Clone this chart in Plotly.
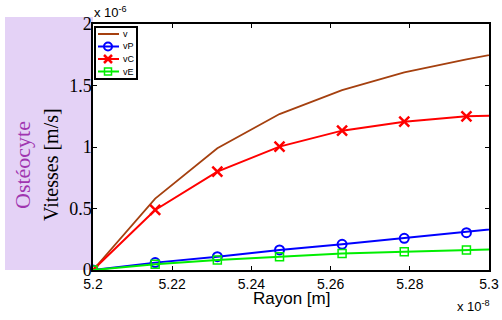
import plotly.graph_objects as go

# Rayon (x 1e-8 m)
rayon = [5.2, 5.2157, 5.2314, 5.2471, 5.2629, 5.2786, 5.2943, 5.31]
# Vitesses (x 1e-6 m/s)
v = [0.0, 0.58, 0.99, 1.268, 1.463, 1.607, 1.713, 1.807]
vP = [0.0, 0.06, 0.108, 0.163, 0.209, 0.258, 0.303, 0.362]
vC = [0.0, 0.488, 0.80, 1.003, 1.133, 1.206, 1.249, 1.262]
vE = [0.0, 0.046, 0.081, 0.108, 0.135, 0.149, 0.163, 0.176]

xticks = [5.2, 5.22, 5.24, 5.26, 5.28, 5.3]
xticklabels = ["5.2", "5.22", "5.24", "5.26", "5.28", "5.3"]
yticks = [0, 0.5, 1, 1.5, 2]
yticklabels = ["0", "0.5", "1", "1.5", "2"]

series_names = ["v", "vP", "vC", "vE"]
series_colors = ["#a5400f", "#0000ff", "#ff0000", "#00ee00"]

W, H = 502, 320
ML, MR, MT, MB = 93, 13, 24, 50
PW, PH = W - ML - MR, H - MT - MB


def px(x):
    return (x - ML) / PW


def py(y):
    return (H - MB - y) / PH


fig = go.Figure()
fig.add_trace(go.Scatter(x=rayon, y=v, name="v", mode="lines",
                         line=dict(color=series_colors[0], width=1.8)))
fig.add_trace(go.Scatter(x=rayon, y=vP, name="vP", mode="lines+markers",
                         line=dict(color=series_colors[1], width=2),
                         marker=dict(symbol="circle-open", size=9, color=series_colors[1],
                                     line=dict(width=2, color=series_colors[1]))))
fig.add_trace(go.Scatter(x=rayon, y=vC, name="vC", mode="lines+markers",
                         line=dict(color=series_colors[2], width=2),
                         marker=dict(symbol="x-thin-open", size=10, color=series_colors[2],
                                     line=dict(width=2.5, color=series_colors[2]))))
fig.add_trace(go.Scatter(x=rayon, y=vE, name="vE", mode="lines+markers",
                         line=dict(color=series_colors[3], width=2),
                         marker=dict(symbol="square-open", size=8, color=series_colors[3],
                                     line=dict(width=1.5, color=series_colors[3]))))

fig.update_layout(
    width=W, height=H,
    margin=dict(l=ML, r=MR, t=MT, b=MB, autoexpand=False),
    paper_bgcolor="white", plot_bgcolor="white",
    showlegend=False,
    xaxis=dict(range=[5.2, 5.3], tickvals=xticks, ticktext=xticklabels,
               showgrid=False, zeroline=False, showline=True, linecolor="black",
               linewidth=1.5, mirror="ticks", ticks="inside", ticklen=4,
               tickcolor="black", automargin=False,
               tickfont=dict(family="Arial", size=14, color="black")),
    yaxis=dict(range=[0, 2], tickvals=yticks, ticktext=yticklabels,
               showgrid=False, zeroline=False, showline=True, linecolor="black",
               linewidth=1.5, mirror="ticks", ticks="inside", ticklen=4,
               tickcolor="black", automargin=False, ticklabelstandoff=-4,
               tickfont=dict(family="Liberation Serif", size=18, color="black")),
)

# Purple label band
fig.add_shape(type="rect", xref="paper", yref="paper",
              x0=px(5), x1=0, y0=0, y1=py(17),
              fillcolor="#e4d2f6", line=dict(width=0), layer="below")

fig.add_annotation(text="Ostéocyte", xref="paper", yref="paper",
                   x=px(22), y=py(165), xanchor="center", yanchor="middle",
                   textangle=-90, showarrow=False,
                   font=dict(family="Liberation Serif", size=22, color="#a035b0"))
fig.add_annotation(text="Vitesses [m/s]", xref="paper", yref="paper",
                   x=px(51), y=py(165), xanchor="center", yanchor="middle",
                   textangle=-90, showarrow=False,
                   font=dict(family="Liberation Serif", size=20, color="black"))
fig.add_annotation(text="Rayon [m]", xref="paper", yref="paper",
                   x=0.5, y=py(298), xanchor="center", yanchor="middle", showarrow=False,
                   font=dict(family="Arial", size=17, color="black"))
fig.add_annotation(text="x 10<sup>-6</sup>", xref="paper", yref="paper",
                   x=px(92), y=py(22), xanchor="left", yanchor="bottom", showarrow=False,
                   font=dict(family="Arial", size=13, color="black"))
fig.add_annotation(text="x 10<sup>-8</sup>", xref="paper", yref="paper",
                   x=px(492), y=py(296), xanchor="right", yanchor="top", showarrow=False,
                   font=dict(family="Arial", size=13, color="black"))

# Compact legend box (drawn in paper coordinates, like MATLAB's legend)
fig.add_shape(type="rect", xref="paper", yref="paper",
              x0=px(95), x1=px(137), y0=py(79), y1=py(27),
              fillcolor="white", line=dict(color="black", width=2))
row_y = [34, 46.5, 59, 71.5]
mx = 108
for i, (name, col) in enumerate(zip(series_names, series_colors)):
    yy = row_y[i]
    fig.add_shape(type="line", xref="paper", yref="paper",
                  x0=px(98), x1=px(119), y0=py(yy), y1=py(yy),
                  line=dict(color=col, width=2))
    if name == "vP":
        fig.add_shape(type="circle", xref="paper", yref="paper",
                      x0=px(mx - 4), x1=px(mx + 4), y0=py(yy + 4), y1=py(yy - 4),
                      line=dict(color=col, width=2))
    elif name == "vC":
        for sgn in (1, -1):
            fig.add_shape(type="line", xref="paper", yref="paper",
                          x0=px(mx - 4), x1=px(mx + 4),
                          y0=py(yy - 4 * sgn), y1=py(yy + 4 * sgn),
                          line=dict(color=col, width=2.5))
    elif name == "vE":
        fig.add_shape(type="rect", xref="paper", yref="paper",
                      x0=px(mx - 3.5), x1=px(mx + 3.5), y0=py(yy + 3.5), y1=py(yy - 3.5),
                      line=dict(color=col, width=1.5))
    fig.add_annotation(text=name, xref="paper", yref="paper",
                       x=px(121), y=py(yy), xanchor="left", yanchor="middle",
                       showarrow=False,
                       font=dict(family="Arial", size=9, color="black"))

fig.write_html("out.html", config={"displayModeBar": False},
               post_script="document.body.style.margin='0';")
